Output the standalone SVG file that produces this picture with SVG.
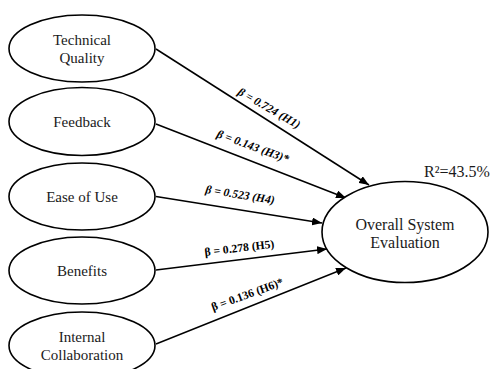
<svg xmlns="http://www.w3.org/2000/svg" width="491" height="369" viewBox="0 0 491 369" font-family="'Liberation Serif', 'Times New Roman', serif">
  <style>
    text { font-family: "Liberation Serif", "Times New Roman", serif; }
    .node ellipse { fill: #ffffff; stroke: #000000; stroke-width: 1.6; }
    .node text { font-size: 15px; fill: #1a1a1a; text-anchor: middle; }
    #outcome text { font-size: 16px; }
    .edge { stroke: #000000; stroke-width: 1.5; fill: none; marker-end: url(#arrow); }
    .lbl { font-size: 11.6px; font-weight: bold; fill: #000000; }
    .it { font-style: italic; }
    .r2 { font-size: 16px; fill: #1a1a1a; }
  </style>
  <defs>
    <marker id="arrow" markerUnits="userSpaceOnUse" markerWidth="10" markerHeight="8" refX="10" refY="4" orient="auto">
      <path d="M0,0 L10,4 L0,8 z" fill="#000000"/>
    </marker>
  </defs>
  <rect width="491" height="369" fill="#ffffff"/>

  <!-- paths from each construct to the outcome -->
  <g id="connectors">
    <line class="edge" x1="156" y1="49" x2="369" y2="185"/>
    <line class="edge" x1="156" y1="124" x2="346" y2="198"/>
    <line class="edge" x1="156" y1="196.5" x2="322" y2="223"/>
    <line class="edge" x1="156" y1="270" x2="327" y2="249"/>
    <line class="edge" x1="156" y1="344" x2="346" y2="268"/>
    <text class="lbl it" transform="translate(237,94) rotate(30)">β = 0.724 (H1)</text>
    <text class="lbl it" transform="translate(216,137) rotate(20)">β = 0.143 (H3)*</text>
    <text class="lbl it" transform="translate(205,193) rotate(9)">β = 0.523 (H4)</text>
    <text class="lbl" transform="translate(205,256) rotate(-7)">β = 0.278 (H5)</text>
    <text class="lbl" transform="translate(213,311) rotate(-20)">β = 0.136 (H6)*</text>
  </g>

  <g id="technical-quality" class="node">
    <ellipse cx="82" cy="48.5" rx="73" ry="33.5"/>
    <text x="82" y="45">Technical</text>
    <text x="82" y="63">Quality</text>
  </g>
  <g id="feedback" class="node">
    <ellipse cx="82" cy="121.5" rx="73" ry="34"/>
    <text x="82" y="127">Feedback</text>
  </g>
  <g id="ease-of-use" class="node">
    <ellipse cx="82" cy="196.5" rx="73" ry="33.5"/>
    <text x="82" y="202">Ease of Use</text>
  </g>
  <g id="benefits" class="node">
    <ellipse cx="82" cy="270.5" rx="73" ry="33.5"/>
    <text x="82" y="276">Benefits</text>
  </g>
  <g id="internal-collaboration" class="node">
    <ellipse cx="82" cy="345.5" rx="73" ry="33.5"/>
    <text x="82" y="342">Internal</text>
    <text x="82" y="360">Collaboration</text>
  </g>

  <g id="outcome" class="node">
    <ellipse cx="405" cy="232" rx="83" ry="50.5"/>
    <text x="405" y="230">Overall System</text>
    <text x="405" y="248">Evaluation</text>
  </g>
  <text class="r2" x="424" y="177">R²=43.5%</text>
</svg>
